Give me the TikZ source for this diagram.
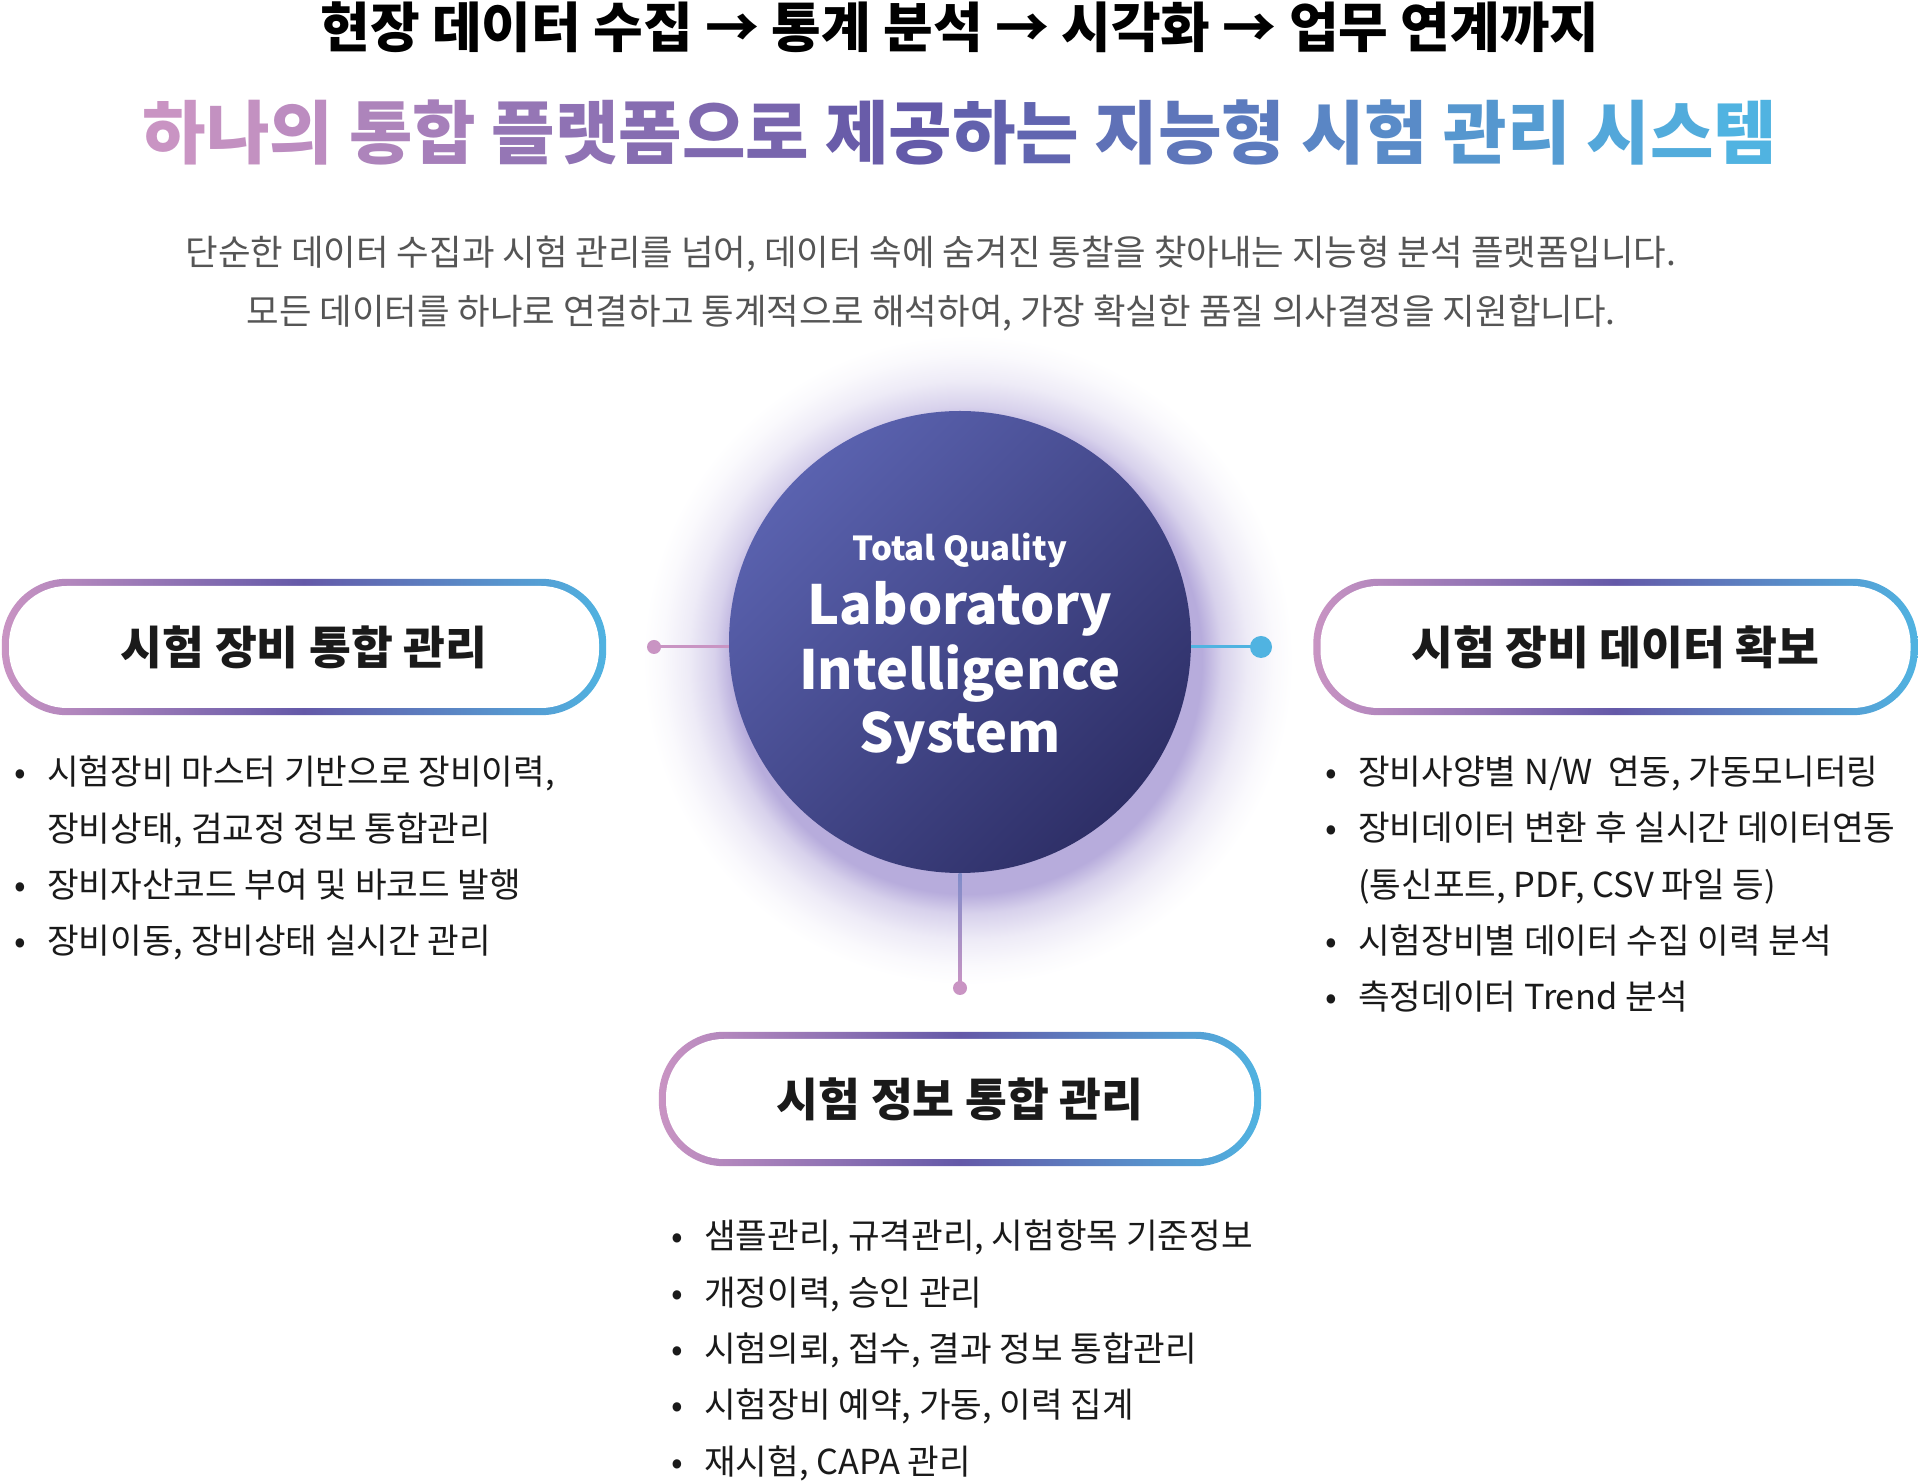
\documentclass[tikz,border=0pt]{standalone}
\usepackage{fontspec}
\setmainfont{Noto Sans CJK KR}
\newfontfamily\orbfont{Noto Sans CJK KR}
\usetikzlibrary{positioning,backgrounds,calc}
\definecolor{lispink}{HTML}{C994C3}
\definecolor{lispurple}{HTML}{6459A8}
\definecolor{lisblue}{HTML}{50B3E1}
\definecolor{linktop}{HTML}{7F8CC9}
\definecolor{orbtop}{HTML}{5A62AF}
\definecolor{orbbottom}{HTML}{2E2F67}
\definecolor{orbglow}{HTML}{B7ACDC}
\definecolor{bodygrey}{HTML}{555555}
\definecolor{inkblack}{HTML}{1A1A1A}

\pgfdeclareradialshading{orbhalo}{\pgfpoint{0bp}{0bp}}{%
  color(0bp)=(orbglow); color(18bp)=(orbglow);
  color(19.5bp)=(orbglow!55!white); color(21.5bp)=(orbglow!24!white);
  color(23.5bp)=(orbglow!7!white); color(25bp)=(white); color(50bp)=(white)}

\newcommand{\bul}[1]{\makebox[33pt][l]{•}#1}
\newcommand{\cont}[1]{\hspace*{33pt}#1}
\newcommand{\orbbig}{\fontsize{54}{64}\selectfont}
\def\gapmark{gap}

\begin{document}
\begin{tikzpicture}[
  x=1pt, y=1pt,
  orb/.style={circle, minimum size=462pt, inner sep=0pt, top color=orbtop,
    bottom color=orbbottom, shading angle=45},
  orbtext/.style={text=white, align=center, inner sep=0pt, font=\orbfont\bfseries},
  pill/.style={rounded corners=58pt, minimum width=590pt, minimum height=122pt,
    fill=white, inner sep=0pt, text=inkblack, font=\bfseries\fontsize{45.5}{54}\selectfont},
  ring/.style={left color=lispink, right color=lisblue, middle color=lispurple,
    rounded corners=65pt},
  knob/.style={circle, inner sep=0pt, minimum size=#1},
  link/.style={line width=3pt},
  bullets/.style={anchor=north west, align=left, inner sep=0pt, text=inkblack,
    font=\fontsize{34.4}{56.3}\selectfont}
]
  \useasboundingbox (0,0) rectangle (1920,1481);

  % Headings
  \node[text=black, font=\bfseries\fontsize{54}{60}\selectfont] (headline) at (960,1454)
    {현장 데이터 수집 → 통계 분석 → 시각화 → 업무 연계까지};
  \node[font=\bfseries\fontsize{69}{76}\selectfont] (tagline) at (960,1348) {%
    \foreach \hch [count=\tidx from 0] in {하,나,의,gap,통,합,gap,플,랫,폼,으,로,gap,제,공,하,는,gap,지,능,형,gap,시,험,gap,관,리,gap,시,스,템}{%
      \pgfmathtruncatemacro{\tint}{100*\tidx/30}%
      \ifnum\tint<46 \pgfmathtruncatemacro{\tmix}{100*\tint/45}\colorlet{tagtint}{lispurple!\tmix!lispink}%
      \else \pgfmathtruncatemacro{\tmix}{100*(\tint-45)/55}\colorlet{tagtint}{lisblue!\tmix!lispurple}\fi
      \ifx\hch\gapmark\ \else\textcolor{tagtint}{\hch}\fi}};
  \node[text=bodygrey, align=center, font=\fontsize{35.4}{59}\selectfont] (intro) at (931,1197.5)
    {단순한 데이터 수집과 시험 관리를 넘어, 데이터 속에 숨겨진 통찰을 찾아내는 지능형 분석 플랫폼입니다.\\
     모든 데이터를 하나로 연결하고 통계적으로 해석하여, 가장 확실한 품질 의사결정을 지원합니다.};

  % Central orb
  \node[orb] (orb) at (960,839) {};
  \node[orbtext] (orblabel) at ([yshift=-7]orb.center)
    {\fontsize{33}{40}\selectfont Total Quality\\[12pt]
     \orbbig Laboratory\\[8pt]\orbbig Intelligence\\[8pt]\orbbig System};

  % Connector ends
  \node[knob=14pt, fill=lispink] (ldot) at (654,834) {};
  \node[knob=22pt, fill=lisblue] (rdot) at (1261,834) {};
  \node[knob=14pt, fill=lispink] (bdot) at (960,493) {};

  % Pills
  \node[pill] (lpill) at (304,834) {시험 장비 통합 관리};
  \node[pill] (rpill) at (1615.5,834) {시험 장비 데이터 확보};
  \node[pill, minimum width=588pt, minimum height=120pt] (bpill) at (960,382) {시험 정보 통합 관리};

  \begin{scope}[on background layer]
    \fill[white] (0,0) rectangle (1920,1481);
    \shade[shading=orbhalo] ([shift={(8,-18)}]orb.center) circle (325pt);
    \foreach \p in {lpill,rpill,bpill}
      \shade[ring] ([shift={(-7,-7)}]\p.south west) rectangle ([shift={(7,7)}]\p.north east);
    \draw[link, lispink] (ldot.center) -- (orb.west |- ldot.center);
    \draw[link, lisblue] (rdot.center) -- (orb.east |- rdot.center);
    \shade[top color=linktop, bottom color=lispink] ([xshift=-1.5]orb.south) rectangle ([xshift=1.5]bdot.center);
  \end{scope}

  % Bullet lists
  \node[bullets] (leftlist) at (14,725) {%
    \bul{시험장비 마스터 기반으로 장비이력,}\\
    \cont{장비상태, 검교정 정보 통합관리}\\
    \bul{장비자산코드 부여 및 바코드 발행}\\
    \bul{장비이동, 장비상태 실시간 관리}};
  \node[bullets] (rightlist) at (1325,725) {%
    \bul{장비사양별 N/W\ \ 연동, 가동모니터링}\\
    \bul{장비데이터 변환 후 실시간 데이터연동}\\
    \cont{(통신포트, PDF, CSV 파일 등)}\\
    \bul{시험장비별 데이터 수집 이력 분석}\\
    \bul{측정데이터 Trend 분석}};
  \node[bullets] (infolist) at (671,261) {%
    \bul{샘플관리, 규격관리, 시험항목 기준정보}\\
    \bul{개정이력, 승인 관리}\\
    \bul{시험의뢰, 접수, 결과 정보 통합관리}\\
    \bul{시험장비 예약, 가동, 이력 집계}\\
    \bul{재시험, CAPA 관리}};
\end{tikzpicture}
\end{document}
